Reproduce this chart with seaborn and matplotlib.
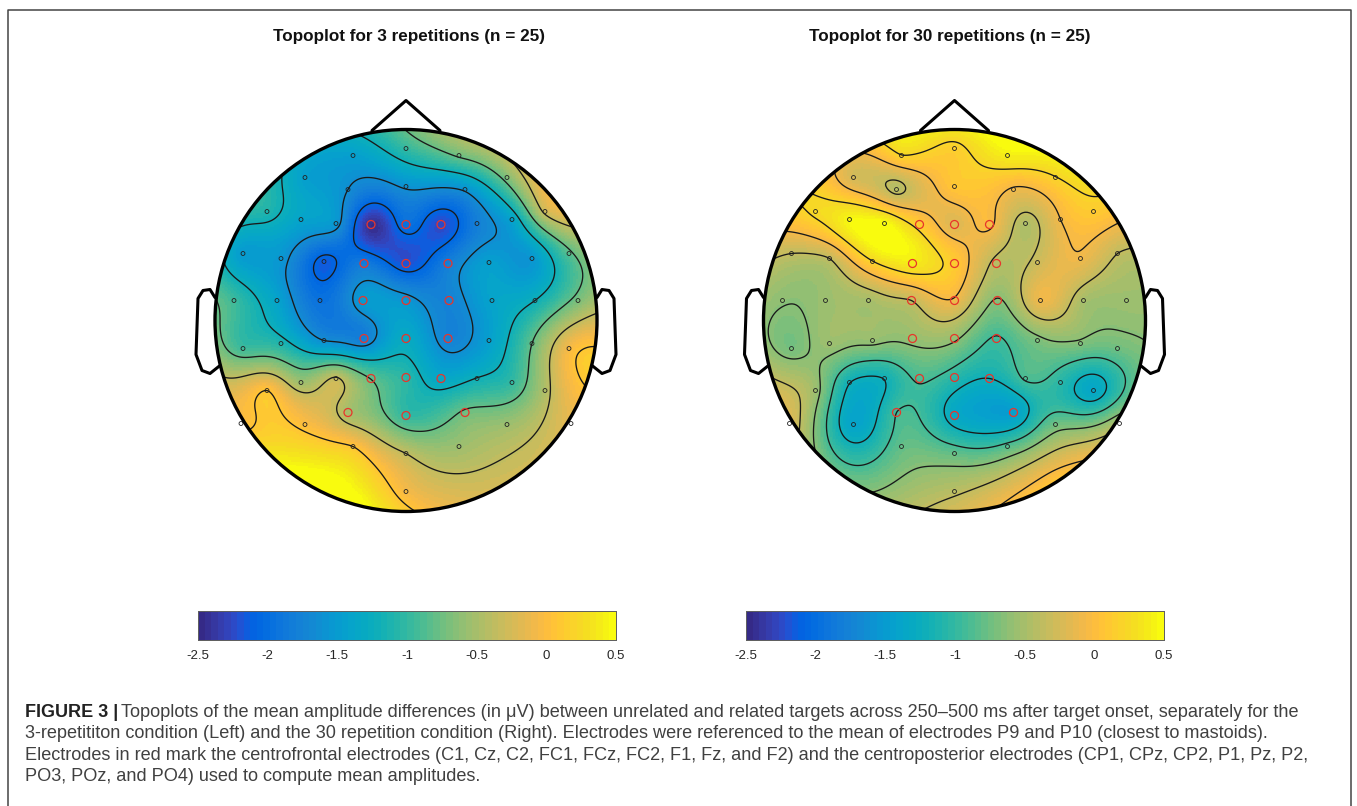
import numpy as np
import pandas as pd
import matplotlib
matplotlib.use("Agg")
import matplotlib.pyplot as plt
import seaborn as sns
from matplotlib.colors import ListedColormap
from matplotlib.lines import Line2D
from matplotlib.patches import Circle

# electrode positions, picture pixels relative to head centre (y goes down)
elec_x = [0, -53, 53, -101, 101, -58, 0, 59, -139, 139, -105, -70, 71, 106,
          -163, -125, -82, 83, 126, 163, -172, -129, -86, 86, 129, 172,
          -163, -125, -82, 83, 126, 163, -105, -70, 71, 106, -139, 139,
          -165, -101, 101, 165, -53, 53, 0, 0]
elec_y = [-172, -165, -165, -143, -143, -131, -134, -131, -109, -109, -101, -97, -97, -101,
          -67, -62, -59, -58, -62, -67, -20, -20, -20, -20, -20, -20,
          28, 23, 20, 20, 23, 28, 62, 58, 58, 62, 70, 70,
          103, 104, 104, 103, 126, 126, 133, 171]
red_x = [-35, 0, 35, -42, 0, 42, -43, 0, 43, -42, 0, 42, -35, 0, 35, -58, 0, 59]
red_y = [-96, -96, -96, -57, -57, -57, -20, -20, -20, 18, 18, 18, 58, 57, 58, 92, 95, 92]

# amplitude at each electrode, microvolts
left_black = [-1.0, -1.45, -0.75, -1.45, -0.68, -1.64, -1.6, -1.6, -1.1, -0.3, -1.4, -1.55, -1.8, -1.4,
              -1.5, -1.55, -2.15, -1.45, -1.55, -0.85, -0.95, -1.4, -1.95, -1.4, -1.21, -0.7,
              -0.95, -1.1, -1.64, -1.45, -0.79, -0.05, -0.55, -0.33, -1.2, -1.0, 0.07, -0.45,
              0.0, 0.0, -0.55, -0.15, 0.07, -0.55, -0.36, -0.05]
left_red = [-2.45, -1.95, -2.25, -1.85, -2.2, -1.8, -1.5, -1.55, -1.75, -1.8, -1.3, -1.75,
            -0.8, -1.05, -1.35, -0.5, -1.0, -0.75]
right_black = [0.15, 0.2, 0.4, -0.25, 0.2, -0.42, 0.08, -0.1, 0.25, 0.12, 0.45, 0.5, -0.45, -0.07,
               -0.36, -0.36, 0.2, -0.3, -0.1, -0.36, -0.62, -0.55, -0.5, -0.1, -0.5, -0.55,
               -0.72, -0.55, -0.58, -0.7, -0.68, -0.75, -1.2, -1.2, -0.9, -1.05, -0.55, -1.35,
               -0.2, -1.4, -0.75, -0.45, -0.8, -0.85, -0.8, -0.4]
right_red = [0.12, -0.2, -0.03, 0.38, 0.12, -0.42, -0.36, -0.1, -0.66, -0.58, -0.6, -0.95,
             -0.9, -1.05, -1.21, -0.93, -1.32, -1.45]

# rim areas with no electrode near them
left_rim_x, left_rim_y, left_rim_v = [186], [39], [0.15]
right_rim_x, right_rim_y, right_rim_v = [103], [158], [0.05]

titles = ["Topoplot for 3 repetitions (n = 25)", "Topoplot for 30 repetitions (n = 25)"]
cbar_ticks = [-2.5, -2, -1.5, -1, -0.5, 0, 0.5]
cbar_labels = ["-2.5", "-2", "-1.5", "-1", "-0.5", "0", "0.5"]
left_levels = [-2.07, -1.64, -1.21, -0.79, -0.36, 0.07]
right_levels = [-1.21, -0.93, -0.64, -0.36, -0.07, 0.21]

caption = ["Topoplots of the mean amplitude differences (in \u03bcV) between unrelated and related targets across 250\u2013500 ms after target onset, separately for the",
           "3-repetititon condition (Left) and the 30 repetition condition (Right). Electrodes were referenced to the mean of electrodes P9 and P10 (closest to mastoids).",
           "Electrodes in red mark the centrofrontal electrodes (C1, Cz, C2, FC1, FCz, FC2, F1, Fz, and F2) and the centroposterior electrodes (CP1, CPz, CP2, P1, Pz, P2,",
           "PO3, POz, and PO4) used to compute mean amplitudes."]

parula = [[0.2081,0.1663,0.5292],[0.2116,0.1898,0.5777],[0.2123,0.2138,0.6270],[0.2081,0.2386,0.6771],
          [0.1959,0.2645,0.7279],[0.1707,0.2919,0.7792],[0.1253,0.3242,0.8303],[0.0591,0.3598,0.8683],
          [0.0117,0.3875,0.8820],[0.0060,0.4086,0.8828],[0.0165,0.4266,0.8786],[0.0329,0.4430,0.8720],
          [0.0498,0.4586,0.8641],[0.0629,0.4737,0.8554],[0.0723,0.4887,0.8467],[0.0779,0.5040,0.8384],
          [0.0793,0.5200,0.8312],[0.0749,0.5375,0.8263],[0.0641,0.5570,0.8240],[0.0488,0.5772,0.8228],
          [0.0343,0.5966,0.8199],[0.0265,0.6137,0.8135],[0.0239,0.6287,0.8038],[0.0231,0.6418,0.7913],
          [0.0228,0.6535,0.7768],[0.0267,0.6642,0.7607],[0.0384,0.6743,0.7436],[0.0590,0.6838,0.7254],
          [0.0843,0.6928,0.7062],[0.1133,0.7015,0.6859],[0.1453,0.7098,0.6646],[0.1801,0.7177,0.6424],
          [0.2178,0.7250,0.6193],[0.2586,0.7317,0.5954],[0.3022,0.7376,0.5712],[0.3482,0.7424,0.5473],
          [0.3953,0.7459,0.5244],[0.4420,0.7481,0.5033],[0.4871,0.7491,0.4840],[0.5300,0.7491,0.4661],
          [0.5709,0.7485,0.4494],[0.6099,0.7473,0.4337],[0.6473,0.7456,0.4188],[0.6834,0.7435,0.4044],
          [0.7184,0.7411,0.3905],[0.7525,0.7384,0.3768],[0.7858,0.7356,0.3633],[0.8185,0.7327,0.3498],
          [0.8507,0.7299,0.3360],[0.8824,0.7274,0.3217],[0.9139,0.7258,0.3063],[0.9450,0.7261,0.2886],
          [0.9739,0.7314,0.2666],[0.9938,0.7455,0.2403],[0.9990,0.7653,0.2164],[0.9955,0.7861,0.1967],
          [0.9880,0.8066,0.1794],[0.9789,0.8271,0.1633],[0.9697,0.8481,0.1475],[0.9626,0.8705,0.1309],
          [0.9589,0.8949,0.1132],[0.9598,0.9218,0.0948],[0.9661,0.9514,0.0755],[0.9763,0.9831,0.0538]]

W, H = 1357, 806
R = 191       # head radius in pixels
HALF = 230    # half size of each head axes in pixels
N = 300       # cells per side of the topoplot

sns.set_theme(style="white")
plt.rcParams["font.family"] = ["Liberation Sans", "DejaVu Sans"]
plt.rcParams["axes.unicode_minus"] = False
cmap = ListedColormap(parula)


def px_rect(left, top, width, height):
    return [left / W, 1 - (top + height) / H, width / W, height / H]


def biharmonic(px, py, values):
    # griddata v4 style spline, same thing topoplot does
    xy = np.column_stack([px, py]) / R
    d = np.linalg.norm(xy[:, None] - xy[None], axis=2)
    g = np.where(d > 0, d**2 * (np.log(np.maximum(d, 1e-9)) - 1), 0.0)
    w = np.linalg.solve(g, values)
    c = (np.arange(N) + 0.5) / N * 2 * HALF - HALF
    gx, gy = np.meshgrid(c, c)
    pts = np.column_stack([gx.ravel(), gy.ravel()]) / R
    d2 = np.linalg.norm(pts[:, None] - xy[None], axis=2)
    g2 = np.where(d2 > 0, d2**2 * (np.log(np.maximum(d2, 1e-9)) - 1), 0.0)
    return (g2 @ w).reshape(N, N)


def to_cell(v):
    return (np.asarray(v, float) + HALF) / (2 * HALF) * N


fig = plt.figure(figsize=(W / 100, H / 100), dpi=100)

heads = [(406, left_black, left_red, left_levels, left_rim_x, left_rim_y, left_rim_v),
         (954.5, right_black, right_red, right_levels, right_rim_x, right_rim_y, right_rim_v)]
cbar_lefts = [198, 746]
title_x = [409, 950]
scale = N / (2 * HALF)

for i, (cx, black, red, levels, rx, ry, rv) in enumerate(heads):
    ax = fig.add_axes(px_rect(cx - HALF, 320.5 - HALF, 2 * HALF, 2 * HALF))
    cax = fig.add_axes(px_rect(cbar_lefts[i], 611, 418, 29))

    all_x = np.array(elec_x + red_x + rx, float)
    all_y = np.array(elec_y + red_y + ry, float)
    field = biharmonic(all_x, all_y, np.array(black + red + rv, float))

    sns.heatmap(field, ax=ax, cmap=cmap, vmin=-2.5, vmax=0.5, cbar_ax=cax,
                cbar_kws={"orientation": "horizontal", "ticks": cbar_ticks},
                xticklabels=False, yticklabels=False)
    rim = Circle((N / 2, N / 2), R * scale, transform=ax.transData, fc="none", ec="none")
    ax.add_patch(rim)
    ax.collections[0].set_clip_path(rim)

    cc = ax.contour(np.arange(N) + 0.5, np.arange(N) + 0.5, field, levels=levels,
                    colors="#1a1a1a", linewidths=0.95, linestyles="solid")
    cc.set_clip_path(rim)

    black_df = pd.DataFrame({"x": to_cell(elec_x), "y": to_cell(elec_y)})
    red_df = pd.DataFrame({"x": to_cell(red_x), "y": to_cell(red_y)})
    sns.scatterplot(data=black_df, x="x", y="y", ax=ax, s=8, facecolor="none",
                    edgecolor="#222222", linewidth=0.6, legend=False, zorder=4)
    sns.scatterplot(data=red_df, x="x", y="y", ax=ax, s=33, facecolor="none",
                    edgecolor="#e8352b", linewidth=0.9, legend=False, zorder=4)

    # head outline: rim, nose, ears
    ax.add_patch(Circle((N / 2, N / 2), R * scale, fc="none", ec="black", lw=2.4, zorder=5))
    nose_x = [-34, 0, 34]
    nose_y = [-190, -220, -190]
    ax.plot(to_cell(nose_x), to_cell(nose_y), color="black", lw=2.2, zorder=5)
    ear_x = np.array([-191, -196, -203, -208, -210, -204, -196, -186])
    ear_y = np.array([-23, -31, -30, -22, 34, 50, 53, 45])
    ax.plot(to_cell(ear_x), to_cell(ear_y), color="black", lw=2.2, zorder=5)
    ax.plot(to_cell(-ear_x), to_cell(ear_y), color="black", lw=2.2, zorder=5)
    ax.set_xlim(0, N)
    ax.set_ylim(N, 0)
    ax.set_xlabel("")
    ax.set_ylabel("")
    ax.axis("off")

    cax.set_xticks(cbar_ticks)
    cax.set_xticklabels(cbar_labels, fontsize=9.5, color="#262626")
    cax.tick_params(axis="x", direction="in", length=3, width=0.6, color="#262626", pad=7, bottom=True)
    for s in cax.spines.values():
        s.set_visible(True)
        s.set_color("#606060")
        s.set_linewidth(0.7)

    fig.text(title_x[i] / W, 1 - 36 / H, titles[i], ha="center", va="center",
             fontsize=12.3, fontweight="bold", color="#111111")

# frame round the whole figure, open at the bottom
fig.add_artist(Line2D([8 / W, 8 / W, 1351 / W, 1351 / W], [0, 1 - 10 / H, 1 - 10 / H, 0],
                      color="#444444", lw=1.1))

cap_y = [717, 738, 760, 781]
fig.canvas.draw()
head = fig.text(25 / W, 1 - cap_y[0] / H, "FIGURE 3 |", fontsize=13, fontweight="bold",
                va="baseline", color="#222222")
end = head.get_window_extent(fig.canvas.get_renderer()).x1
for j, line in enumerate(caption):
    x = end + 3 if j == 0 else 25
    fig.text(x / W, 1 - cap_y[j] / H, line, fontsize=13.05, va="baseline", color="#404040")

fig.savefig("out.png", dpi=100)
